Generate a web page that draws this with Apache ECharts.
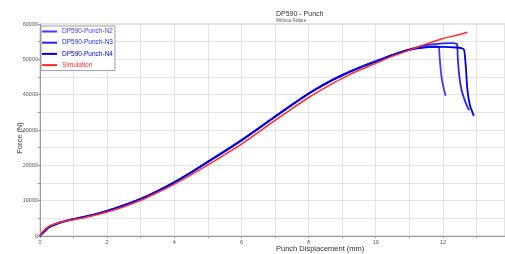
<!DOCTYPE html>
<html><head><meta charset="utf-8">
<script src="https://cdn.jsdelivr.net/npm/echarts@6/dist/echarts.min.js"></script>
<style>html,body{margin:0;padding:0;background:#fff}#c{width:505px;height:254px}</style>
</head><body><div id="c"></div>
<script>
const seriesNames = ['DP590-Punch-N2','DP590-Punch-N3','DP590-Punch-N4','Simulation'];
const seriesColors = ['#3c3cff','#2626ee','#0000e6','#ff2a2a'];
const xTickLabels = [0,2,4,6,8,10,12];
const yTickLabels = [0,10000,20000,30000,40000,50000,60000];

// shared loading branch of the tests (mm, N)
const testX = [0,0.05,0.1,0.2,0.3,0.5,0.7,1,1.5,2,2.5,3,3.5,4,4.5,5,5.5,6,6.5,7,7.5,8,8.5,9,9.5,10,10.5,11];
const n2F = [0,600,1100,2000,2700,3500,4100,4800,5800,7100,8700,10500,12700,15200,18000,21000,24000,27100,30400,33800,37100,40300,43100,45500,47600,49400,51200,52700];
const n3F = [0,600,1100,2000,2700,3500,4100,4800,5850,7150,8750,10550,12750,15250,18050,21050,24050,27150,30450,33850,37150,40350,43150,45600,47700,49500,51300,52800];
const n4F = [0,550,1050,1950,2650,3450,4050,4750,5750,7050,8650,10450,12650,15150,17950,20950,23950,27050,30350,33750,37050,40250,43050,45450,47550,49350,51150,52650];
// post-peak branches
const n2TailX = [11.5,11.8,11.88,11.9,11.93,11.96,12.0,12.04,12.08];
const n2TailF = [53500,53650,53500,51000,47500,45000,42800,41200,39700];
const n3TailX = [11.5,12.0,12.3,12.42,12.44,12.47,12.51,12.56,12.62,12.7,12.78];
const n3TailF = [54000,54500,54600,54300,51000,47000,43700,41200,39300,37200,35600];
const n4TailX = [11.5,12.0,12.4,12.55,12.63,12.66,12.69,12.72,12.76,12.82,12.92];
const n4TailF = [53400,53500,53350,53150,52700,50500,47000,42500,39200,36500,34000];
// simulation
const simX = [0,0.05,0.1,0.2,0.3,0.5,0.7,1,1.5,2,2.5,3,3.5,4,4.5,5,5.5,6,6.5,7,7.5,8,8.5,9,9.5,10,10.5,11,11.5,12,12.5,12.73];
const simF = [0,800,1400,2300,2900,3600,4100,4600,5600,6800,8300,10100,12300,14700,17300,20100,23000,26000,29300,32700,36000,39200,42000,44600,46900,48900,50900,52600,54300,55900,57000,57650];

function pairs(xs, ys){ return xs.map((x,i)=>[x, ys[i]]); }
const data = [
  pairs(testX, n2F).concat(pairs(n2TailX, n2TailF)),
  pairs(testX, n3F).concat(pairs(n3TailX, n3TailF)),
  pairs(testX, n4F).concat(pairs(n4TailX, n4TailF)),
  pairs(simX, simF)
];

const chart = echarts.init(document.getElementById('c'), null, {renderer:'canvas'});
const font = 'Liberation Sans, Arial, sans-serif';
chart.setOption({
  animation:false,
  backgroundColor:'#fff',
  grid:{left:40, top:24, right:0, bottom:18, show:true, borderColor:'#c8c8c8', borderWidth:1},
  graphic:[
    {type:'text', left:276, top:10.5, style:{text:'DP590 - Punch', font:'7px '+font, fill:'#333', textAlign:'center'}},
    {type:'text', left:276, top:18, style:{text:'Without Failure', font:'4.5px '+font, fill:'#555', textAlign:'center'}},
    {type:'text', left:276, top:244.5, style:{text:'Punch Displacement (mm)', font:'7.5px '+font, fill:'#333', textAlign:'center'}},
    {type:'text', x:20, y:138, rotation:Math.PI/2, style:{text:'Force (N)', font:'7.5px '+font, fill:'#333', align:'center', verticalAlign:'middle'}}
  ],
  legend:{
    orient:'vertical', left:41, top:26, padding:[2,2,2,1], itemGap:4.2, itemWidth:15, itemHeight:2,
    itemTextGap:1, icon:'rect', borderColor:'#a0a0a0', borderWidth:1, backgroundColor:'#fff',
    textStyle:{fontSize:6.5, fontFamily:font},
    data: seriesNames.map((n,i)=>({name:n, textStyle:{color:seriesColors[i]}}))
  },
  xAxis:{
    type:'value', min:0, max:13.85, interval:1,
    axisLine:{show:true, lineStyle:{color:'#999'}},
    axisTick:{show:true, length:2, lineStyle:{color:'#999'}},
    axisLabel:{fontSize:5.5, color:'#555', margin:3, fontFamily:font, showMaxLabel:false,
      formatter:v=> xTickLabels.includes(v) ? String(v) : ''},
    splitLine:{show:true, lineStyle:{color:'#e4e4e4', width:1}}
  },
  yAxis:{
    type:'value', min:0, max:60000, interval:5000,
    axisLine:{show:true, lineStyle:{color:'#999'}},
    axisTick:{show:true, length:2, lineStyle:{color:'#999'}},
    axisLabel:{fontSize:5.5, color:'#555', margin:2, fontFamily:font,
      formatter:v=> yTickLabels.includes(v) ? String(v) : ''},
    splitLine:{show:true, lineStyle:{color:'#e4e4e4', width:1}}
  },
  series: seriesNames.map((n,i)=>({
    name:n, type:'line', data:data[i], showSymbol:false, symbol:'none',
    smooth: 0.2, smoothMonotone:null,
    lineStyle:{color:seriesColors[i], width: i===3 ? 1.5 : 1.8},
    itemStyle:{color:seriesColors[i]},
    z: i===3 ? 3 : 2
  }))
});
</script></body></html>
